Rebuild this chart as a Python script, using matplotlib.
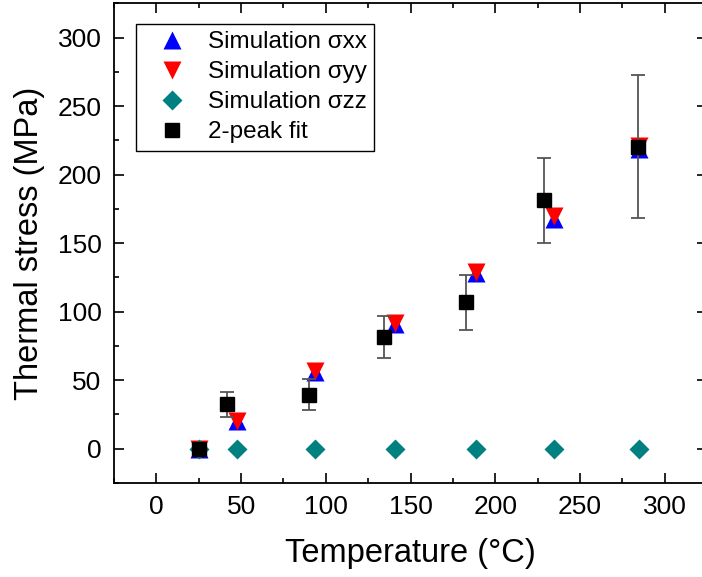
import numpy as np
import matplotlib.pyplot as plt
from matplotlib.ticker import MultipleLocator

plt.rcParams['font.family'] = ['Liberation Sans', 'DejaVu Sans']

# simulation temperatures (C) and stresses (MPa)
t_sim = [25, 47.5, 93.5, 141, 188.5, 234.5, 284.5]
s_xx = [0, 20, 56, 91, 128, 168, 219]
s_yy = [0, 20, 57, 92, 129, 170, 221]
s_zz = [0, 0, 0, 0, 0, 0, 0]

# 2-peak fit
t_fit = [25, 41.5, 90, 134.5, 182.5, 228.5, 284]
s_fit = [0, 32.5, 39.5, 81.5, 107, 181.5, 220.5]
s_err = [0, 9, 11.5, 15.5, 20, 31, 52]
t_err = [0, 0, 0, 0, 0, 0, 3.4]

fig = plt.figure(figsize=(7.02, 5.77), dpi=100)
ax = fig.add_axes([0.1624, 0.163, 0.845, 0.831])

h1, = ax.plot(t_sim, s_xx, '^', color='#0000ff', ms=12.5, mec='none')
h2, = ax.plot(t_sim, s_yy, 'v', color='#ff0000', ms=12.5, mec='none')
h3, = ax.plot(t_sim, s_zz, 'D', color='#008080', ms=9.8, mec='none')
eb = ax.errorbar(t_fit, s_fit, yerr=s_err, xerr=t_err, fmt='s', color='black', ms=9.5,
                 ecolor='#555555', elinewidth=1.3, capsize=5, capthick=1.3)
h4 = eb[0]

ax.set_xlim(-25, 325)
ax.set_ylim(-25, 325)
ax.xaxis.set_major_locator(MultipleLocator(50))
ax.xaxis.set_minor_locator(MultipleLocator(25))
ax.yaxis.set_major_locator(MultipleLocator(50))
ax.yaxis.set_minor_locator(MultipleLocator(25))
ax.tick_params(which='both', direction='in', top=True, right=True, width=1.2, labelsize=19)
ax.tick_params(which='major', length=7, pad=9)
ax.tick_params(which='minor', length=3.8)
for sp in ax.spines.values():
    sp.set_linewidth(1.3)

ax.set_xlabel('Temperature (°C)', fontsize=23.5, labelpad=13)
ax.set_ylabel('Thermal stress (MPa)', fontsize=23.5, labelpad=9)

leg = ax.legend([h1, h2, h3, h4], ['Simulation σxx', 'Simulation σyy', 'Simulation σzz', '2-peak fit'],
                loc='upper left', bbox_to_anchor=(0.037, 0.957), borderaxespad=0,
                fontsize=17.5, fancybox=False, edgecolor='black', framealpha=1,
                handletextpad=0.25, labelspacing=0.33, borderpad=0.3, handlelength=2.4)
leg.get_frame().set_linewidth(1.0)

fig.savefig('out.png', dpi=100)
